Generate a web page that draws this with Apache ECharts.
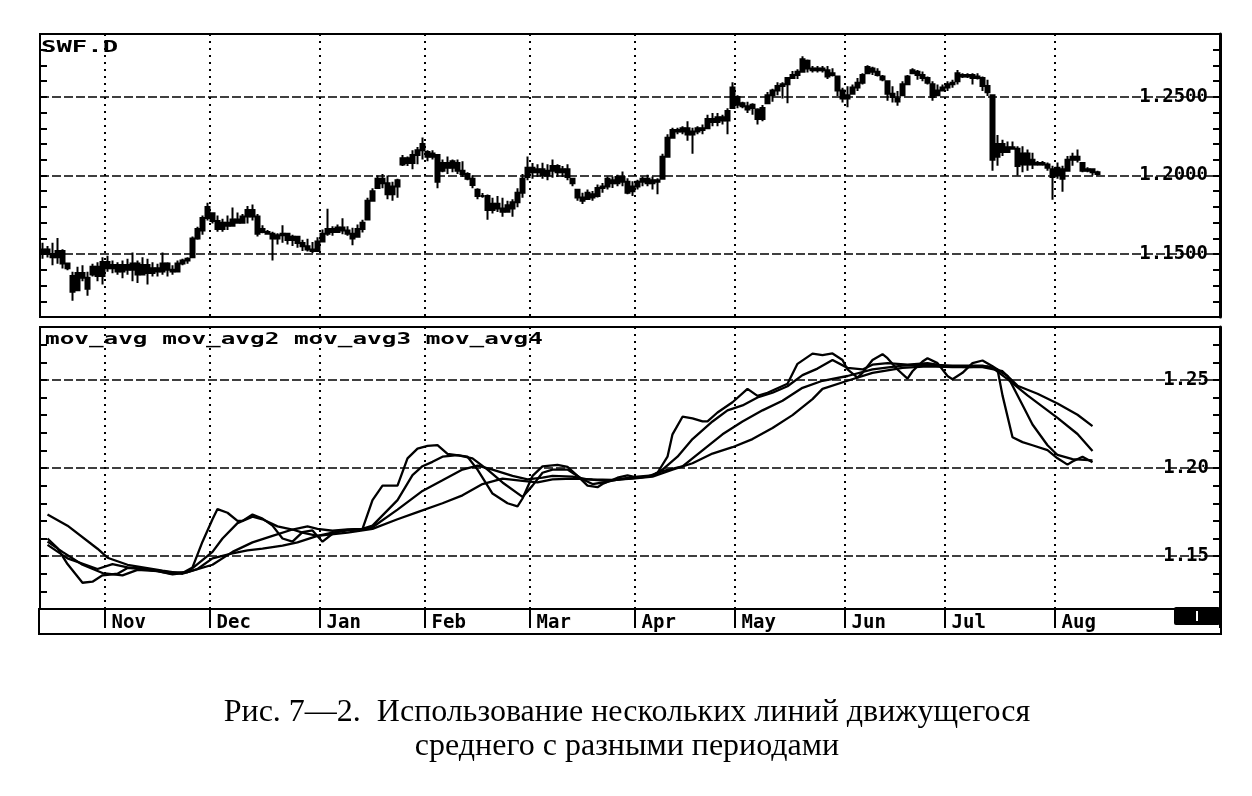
<!DOCTYPE html>
<html>
<head>
<meta charset="utf-8">
<script src="https://cdn.jsdelivr.net/npm/echarts@6/dist/echarts.min.js"></script>
<style>
html,body{margin:0;padding:0;background:#fff;}
#chart{width:1252px;height:796px;}
</style>
</head>
<body>
<div id="chart"></div>
<script>
// ---- data ----
const monthNames = ['Oct','Nov','Dec','Jan','Feb','Mar','Apr','May','Jun','Jul','Aug'];
const monthDays  = [13,21,22,21,21,21,20,22,20,22,33];   // trading-day slots per month shown
const topTicks = [1.15, 1.20, 1.25];
const bottomTicks = [1.15, 1.20, 1.25];

// daily bars [open, close, low, high]
const priceBars = [
[1.150,1.153,1.147,1.1572],[1.153,1.150,1.1478,1.1551],[1.150,1.148,1.1429,1.1572],[1.148,1.152,1.1439,1.1602],
[1.152,1.144,1.1408,1.1531],[1.144,1.141,1.1398,1.1445],[1.136,1.126,1.1204,1.1388],[1.127,1.138,1.1266,1.1419],
[1.138,1.135,1.1327,1.1429],[1.135,1.128,1.1235,1.1388],[1.137,1.142,1.1357,1.1439],[1.142,1.136,1.1327,1.1449],
[1.136,1.145,1.1306,1.148],[1.145,1.141,1.1388,1.149],[1.141,1.143,1.1378,1.1459],[1.143,1.139,1.1368,1.1449],
[1.139,1.143,1.1347,1.1459],[1.143,1.140,1.1368,1.147],[1.140,1.144,1.1327,1.151],[1.144,1.137,1.1317,1.1459],
[1.137,1.143,1.1368,1.148],[1.143,1.138,1.1306,1.147],[1.138,1.141,1.1357,1.1449],[1.141,1.139,1.1357,1.1439],
[1.139,1.144,1.1368,1.151],[1.144,1.140,1.1357,1.1449],[1.140,1.139,1.1368,1.1429],[1.139,1.144,1.1385,1.1459],
[1.144,1.146,1.1429,1.147],[1.146,1.147,1.1439,1.148],[1.148,1.160,1.1475,1.1612],[1.160,1.166,1.1592,1.1674],
[1.165,1.173,1.1623,1.1745],[1.173,1.180,1.1714,1.1827],[1.176,1.171,1.1694,1.1765],[1.171,1.166,1.1643,1.1745],
[1.166,1.170,1.1643,1.1725],[1.170,1.168,1.1653,1.1745],[1.168,1.172,1.1674,1.1796],[1.172,1.170,1.1694,1.1765],
[1.170,1.174,1.1694,1.1755],[1.174,1.178,1.1694,1.1806],[1.178,1.174,1.1714,1.1816],[1.174,1.163,1.1612,1.1755],
[1.164,1.166,1.1633,1.1684],[1.164,1.163,1.1623,1.1653],[1.163,1.160,1.1459,1.1643],[1.160,1.162,1.1561,1.1633],
[1.162,1.163,1.1572,1.1684],[1.163,1.159,1.1561,1.1633],[1.159,1.161,1.1551,1.1623],[1.161,1.157,1.1541,1.1612],
[1.157,1.155,1.152,1.1592],[1.155,1.153,1.1516,1.1597],[1.153,1.152,1.1506,1.1577],[1.152,1.158,1.1516,1.1607],
[1.158,1.163,1.1575,1.1657],[1.163,1.166,1.1617,1.1788],[1.166,1.164,1.1617,1.1677],[1.164,1.167,1.1637,1.1688],
[1.167,1.165,1.1627,1.1728],[1.165,1.163,1.1617,1.1677],[1.163,1.160,1.1556,1.1667],[1.161,1.166,1.1605,1.1688],
[1.166,1.170,1.1637,1.1718],[1.172,1.184,1.1718,1.1859],[1.184,1.190,1.1839,1.1919],[1.192,1.198,1.1919,1.200],
[1.198,1.195,1.1919,1.201],[1.195,1.188,1.1849,1.200],[1.188,1.193,1.1839,1.196],[1.193,1.197,1.1859,1.198],
[1.207,1.211,1.206,1.2131],[1.211,1.208,1.206,1.2121],[1.208,1.213,1.204,1.2161],[1.213,1.216,1.2071,1.2181],
[1.216,1.220,1.2101,1.2242],[1.215,1.212,1.2091,1.2161],[1.212,1.214,1.2101,1.2161],[1.213,1.196,1.1919,1.2131],
[1.203,1.208,1.202,1.2101],[1.208,1.205,1.201,1.2121],[1.205,1.209,1.202,1.2101],[1.208,1.203,1.201,1.2101],
[1.203,1.201,1.199,1.2091],[1.201,1.198,1.197,1.202],[1.198,1.194,1.1919,1.200],[1.191,1.187,1.1849,1.1919],
[1.187,1.187,1.1859,1.1889],[1.187,1.178,1.1718,1.1879],[1.178,1.182,1.1758,1.1859],[1.182,1.179,1.1768,1.1869],
[1.179,1.177,1.1738,1.1859],[1.177,1.181,1.1768,1.1839],[1.179,1.183,1.1738,1.1849],[1.183,1.189,1.1798,1.1919],
[1.189,1.198,1.1859,1.201],[1.199,1.205,1.1969,1.2121],[1.205,1.202,1.198,1.208],[1.202,1.204,1.199,1.2071],
[1.204,1.200,1.198,1.2081],[1.200,1.203,1.197,1.2071],[1.203,1.206,1.1985,1.2101],[1.206,1.202,1.199,1.2071],
[1.202,1.204,1.199,1.206],[1.204,1.199,1.197,1.2071],[1.198,1.195,1.1932,1.1983],[1.191,1.186,1.1839,1.1911],
[1.186,1.184,1.1818,1.189],[1.185,1.189,1.1849,1.1911],[1.188,1.186,1.1839,1.1901],[1.187,1.192,1.186,1.1942],
[1.192,1.193,1.189,1.1952],[1.193,1.198,1.1911,1.1994],[1.197,1.195,1.1921,1.1994],[1.195,1.199,1.1932,1.2004],
[1.199,1.196,1.1932,1.2025],[1.196,1.189,1.188,1.1983],[1.190,1.193,1.187,1.1963],[1.193,1.196,1.1911,1.1973],
[1.196,1.198,1.1932,1.1994],[1.198,1.195,1.1932,1.2004],[1.195,1.197,1.1911,1.1994],[1.197,1.196,1.188,1.1983],
[1.198,1.212,1.1973,1.2138],[1.212,1.224,1.2118,1.2262],[1.224,1.229,1.2235,1.2304],[1.229,1.228,1.2262,1.2304],
[1.228,1.230,1.2262,1.2314],[1.230,1.226,1.2221,1.2345],[1.226,1.228,1.2138,1.2304],[1.228,1.230,1.2262,1.2314],
[1.230,1.229,1.2262,1.2324],[1.230,1.236,1.2295,1.2386],[1.236,1.234,1.2314,1.2397],[1.234,1.237,1.2314,1.2397],
[1.237,1.235,1.2324,1.2386],[1.235,1.241,1.2262,1.2428],[1.243,1.256,1.2428,1.2593],[1.250,1.245,1.2428,1.251],
[1.246,1.244,1.2428,1.2469],[1.244,1.242,1.2397,1.2469],[1.243,1.245,1.2386,1.2459],[1.242,1.236,1.2324,1.2428],
[1.236,1.243,1.2345,1.2448],[1.246,1.251,1.2459,1.2531],[1.251,1.254,1.2469,1.2552],[1.254,1.257,1.251,1.2593],
[1.257,1.258,1.249,1.2593],[1.258,1.262,1.2459,1.2624],[1.262,1.264,1.2614,1.2665],[1.264,1.266,1.2614,1.2676],
[1.266,1.274,1.2655,1.2758],[1.273,1.268,1.2655,1.2738],[1.268,1.267,1.2655,1.2696],[1.267,1.268,1.2655,1.2696],
[1.268,1.267,1.2655,1.2696],[1.267,1.263,1.2614,1.2696],[1.265,1.264,1.263,1.2682],[1.263,1.254,1.2506,1.2635],
[1.254,1.249,1.2465,1.2558],[1.249,1.251,1.2434,1.2568],[1.252,1.256,1.2517,1.2579],[1.256,1.259,1.2537,1.262],
[1.259,1.264,1.2579,1.2651],[1.265,1.269,1.2645,1.2702],[1.268,1.266,1.264,1.2692],[1.266,1.264,1.263,1.2682],
[1.263,1.261,1.2599,1.264],[1.260,1.252,1.2475,1.2605],[1.252,1.250,1.2465,1.2568],[1.249,1.247,1.2444,1.2537],
[1.251,1.258,1.2505,1.2599],[1.258,1.263,1.2575,1.264],[1.265,1.267,1.2645,1.2682],[1.266,1.264,1.2609,1.2671],
[1.264,1.262,1.2599,1.2661],[1.262,1.259,1.2579,1.263],[1.258,1.250,1.2475,1.2599],[1.251,1.254,1.2505,1.2579],
[1.254,1.256,1.2537,1.2579],[1.256,1.258,1.2537,1.2599],[1.258,1.259,1.2558,1.2609],[1.260,1.265,1.2579,1.2671],
[1.264,1.263,1.262,1.2651],[1.263,1.264,1.262,1.2651],[1.264,1.262,1.2579,1.2651],[1.262,1.263,1.261,1.2651],
[1.262,1.257,1.2537,1.263],[1.257,1.253,1.2506,1.2609],[1.251,1.210,1.2031,1.2516],[1.212,1.220,1.2062,1.2258],
[1.220,1.215,1.2124,1.2227],[1.215,1.218,1.2145,1.2217],[1.218,1.217,1.2165,1.2217],[1.217,1.206,1.200,1.2186],
[1.207,1.214,1.2021,1.2186],[1.214,1.207,1.2031,1.2165],[1.207,1.210,1.2041,1.2145],[1.208,1.207,1.2062,1.2093],
[1.207,1.208,1.2062,1.2093],[1.207,1.205,1.2031,1.2083],[1.204,1.199,1.1845,1.2062],[1.200,1.205,1.1979,1.2083],
[1.204,1.198,1.1897,1.2062],[1.203,1.210,1.2025,1.2124],[1.210,1.212,1.2062,1.2145],[1.212,1.210,1.2083,1.2165],
[1.208,1.203,1.2021,1.2083],[1.203,1.204,1.2021,1.2052],[1.204,1.202,1.200,1.2041],[1.202,1.201,1.200,1.2031]
];

// moving averages: [trading-day index, value]
const movAvg1 = [[1,1.160],[3,1.1546],[5,1.1455],[8,1.1349],[10,1.1355],[12,1.1391],[15,1.140],[17,1.1433],[20,1.1426],[23,1.1415],[26,1.1396],[28,1.1404],[30,1.1436],[32,1.1582],[34,1.1709],[35,1.1767],[37,1.1746],[39,1.170],[40,1.170],[42,1.1736],[44,1.1713],[46,1.1673],[48,1.160],[50,1.1582],[52,1.1636],[54,1.1646],[56,1.1582],[58,1.1627],[60,1.1646],[64,1.1655],[66,1.1818],[68,1.19],[71,1.19],[73,1.2055],[75,1.211],[77,1.2125],[79,1.213],[81,1.208],[85,1.2064],[87,1.1991],[90,1.1855],[93,1.18],[95,1.1782],[96,1.1827],[98,1.1955],[100,1.2009],[103,1.2018],[105,1.2006],[107,1.1955],[109,1.19],[111,1.1891],[112,1.1909],[115,1.1945],[117,1.1958],[119,1.1945],[122,1.1955],[123,1.1973],[125,1.2064],[126,1.2191],[128,1.2291],[130,1.2282],[132,1.2264],[133,1.2264],[135,1.2315],[138,1.2373],[141,1.2449],[143,1.2409],[145,1.2427],[149,1.2478],[151,1.2591],[154,1.2649],[156,1.2641],[158,1.265],[160,1.2613],[161,1.2559],[163,1.2513],[164,1.254],[166,1.2613],[168,1.2646],[169,1.2623],[171,1.2559],[173,1.2507],[174,1.2549],[176,1.2604],[177,1.2623],[179,1.2595],[181,1.2522],[182,1.2504],[184,1.254],[186,1.2595],[188,1.261],[190,1.2577],[191,1.2559],[192,1.2412],[194,1.2174],[196,1.2147],[198,1.2129],[201,1.2101],[203,1.2055],[205,1.2019],[206,1.2037],[208,1.2064],[210,1.2032]];
const movAvg2 = [[1,1.1582],[4,1.1524],[8,1.1451],[12,1.1404],[16,1.1391],[19,1.1422],[23,1.1415],[26,1.140],[29,1.1409],[31,1.1455],[34,1.1524],[36,1.160],[39,1.1687],[42,1.1724],[44,1.1709],[47,1.1669],[50,1.1651],[52,1.1633],[55,1.1615],[58,1.1633],[61,1.1646],[64,1.1655],[66,1.1673],[71,1.1818],[74,1.196],[76,1.201],[78,1.2035],[80,1.2064],[83,1.2073],[86,1.2055],[89,1.1991],[92,1.1918],[96,1.1836],[98,1.19],[100,1.1973],[102,1.1991],[105,1.1991],[108,1.1936],[110,1.1909],[113,1.1922],[116,1.194],[119,1.1951],[122,1.1958],[124,1.1991],[127,1.2064],[130,1.2164],[134,1.2264],[137,1.2327],[140,1.2355],[143,1.240],[146,1.2427],[149,1.2464],[152,1.2527],[155,1.2564],[158,1.2613],[161,1.2568],[164,1.2559],[166,1.2586],[169,1.2595],[173,1.2586],[177,1.2595],[181,1.2577],[185,1.2573],[189,1.2577],[191,1.2559],[193,1.2522],[196,1.2357],[198,1.2247],[201,1.2129],[203,1.2074],[206,1.205],[210,1.2043]];
const movAvg3 = [[1,1.1564],[5,1.1487],[11,1.1427],[14,1.1455],[17,1.1436],[21,1.1426],[26,1.1407],[29,1.1409],[34,1.1451],[38,1.1524],[42,1.1578],[46,1.1615],[50,1.1651],[53,1.1669],[55,1.1655],[58,1.1644],[61,1.1651],[64,1.1655],[66,1.1664],[71,1.1764],[76,1.187],[80,1.193],[84,1.1991],[87,1.2013],[90,1.1991],[94,1.1955],[97,1.1936],[100,1.1945],[102,1.1955],[106,1.1951],[109,1.1936],[113,1.1927],[117,1.194],[121,1.1951],[124,1.1982],[128,1.2009],[132,1.21],[136,1.2191],[140,1.2264],[144,1.2327],[148,1.2382],[152,1.2455],[156,1.2495],[161,1.2522],[166,1.2559],[172,1.2581],[177,1.2586],[182,1.2581],[188,1.2581],[190,1.2568],[193,1.2504],[197,1.2412],[203,1.2284],[207,1.2193],[210,1.2097]];
const movAvg4 = [[1,1.1736],[5,1.1673],[11,1.1542],[13,1.1491],[17,1.1451],[24,1.1418],[28,1.140],[31,1.1427],[34,1.1487],[38,1.1515],[41,1.1533],[44,1.1542],[48,1.156],[51,1.1578],[55,1.1615],[61,1.1633],[64,1.1646],[66,1.1655],[71,1.1709],[75,1.175],[80,1.180],[84,1.1845],[88,1.1909],[92,1.194],[96,1.1927],[99,1.1918],[102,1.1936],[106,1.194],[110,1.1936],[114,1.1933],[118,1.194],[122,1.1951],[126,1.1991],[130,1.2027],[134,1.2082],[138,1.2118],[142,1.2164],[146,1.2227],[150,1.230],[154,1.2391],[156,1.2449],[161,1.2495],[166,1.254],[172,1.2568],[177,1.2577],[182,1.2573],[188,1.2573],[192,1.2549],[195,1.2467],[199,1.2421],[203,1.2366],[207,1.2302],[210,1.2238]];

const seriesNames = ['mov_avg','mov_avg2','mov_avg3','mov_avg4'];
const symbolName = 'SWF.D';
const captionLines = ['Рис. 7—2.  Использование нескольких линий движущегося', 'среднего с разными периодами'];

// ---- build ----
const categories = [];
monthNames.forEach((m, i) => { for (let d = 1; d <= monthDays[i]; d++) categories.push(m + ' ' + d); });
const isMonthStart = (idx, val) => idx > 0 && /\s1$/.test(val);

const mono = '"DejaVu Sans Mono"';
const isTick = (v, list) => list.some(t => Math.abs(v - t) < 1e-6);

const gridLineStyle = {color:'#000', width:1.5, type:[9,3]};
const vLineStyle = {color:'#000', width:2, type:[2,5]};

const chart = echarts.init(document.getElementById('chart'), null, {renderer:'canvas'});
const option = {
  animation: false,
  backgroundColor: '#fff',
  grid: [
    {left:40, right:32, top:34, height:283, show:true, borderColor:'#000', borderWidth:2},
    {left:40, right:32, top:327, height:282, show:true, borderColor:'#000', borderWidth:2}
  ],
  xAxis: [
    {type:'category', gridIndex:0, data:categories, boundaryGap:true,
     axisLine:{show:true, lineStyle:{color:'#000', width:2}},
     axisTick:{show:false}, axisLabel:{show:false},
     splitLine:{show:true, interval:isMonthStart, lineStyle:vLineStyle}},
    {type:'category', gridIndex:1, data:categories, boundaryGap:true,
     axisLine:{show:true, lineStyle:{color:'#000', width:2}},
     axisTick:{show:true, interval:isMonthStart, length:19, lineStyle:{color:'#000', width:2}},
     axisLabel:{show:true, interval:isMonthStart, formatter:v => v.split(' ')[0], align:'left',
                margin:5, padding:[0,0,0,4], color:'#000', fontFamily:mono, fontWeight:'bold', fontSize:19},
     splitLine:{show:true, interval:isMonthStart, lineStyle:vLineStyle}}
  ],
  yAxis: [
    {type:'value', gridIndex:0, position:'right', min:1.11, max:1.29, interval:0.01, scale:true,
     axisLine:{show:true, lineStyle:{color:'#000', width:3}},
     axisTick:{show:true, inside:true, length:7, lineStyle:{color:'#000', width:2}},
     axisLabel:{inside:true, margin:10, color:'#000', fontFamily:mono, fontWeight:'bold', fontSize:19,
                backgroundColor:'#fff', padding:[0,2,0,4],
                formatter:v => isTick(v, topTicks) ? v.toFixed(4) : ''},
     splitLine:{show:false}},
    {type:'value', gridIndex:0, position:'left', min:1.11, max:1.29, interval:0.01, scale:true,
     axisLine:{show:true, lineStyle:{color:'#000', width:2}},
     axisTick:{show:true, inside:true, length:7, lineStyle:{color:'#000', width:2}},
     axisLabel:{show:false}, splitLine:{show:false}},
    {type:'value', gridIndex:1, position:'right', min:1.12, max:1.28, interval:0.01, scale:true,
     axisLine:{show:true, lineStyle:{color:'#000', width:3}},
     axisTick:{show:true, inside:true, length:7, lineStyle:{color:'#000', width:2}},
     axisLabel:{inside:true, margin:9, color:'#000', fontFamily:mono, fontWeight:'bold', fontSize:19,
                backgroundColor:'#fff', padding:[0,2,0,4],
                formatter:v => isTick(v, bottomTicks) ? v.toFixed(2) : ''},
     splitLine:{show:false}},
    {type:'value', gridIndex:1, position:'left', min:1.12, max:1.28, interval:0.01, scale:true,
     axisLine:{show:true, lineStyle:{color:'#000', width:2}},
     axisTick:{show:true, inside:true, length:7, lineStyle:{color:'#000', width:2}},
     axisLabel:{show:false}, splitLine:{show:false}}
  ],
  series: [
    {name:symbolName, type:'candlestick', xAxisIndex:0, yAxisIndex:0, data:priceBars, barWidth:5,
     itemStyle:{color:'#000', color0:'#000', borderColor:'#000', borderColor0:'#000', borderWidth:2},
     markLine:{silent:true, symbol:'none', label:{show:false}, lineStyle:gridLineStyle,
               data: topTicks.map(t => ({yAxis:t}))}},
    ...[movAvg1, movAvg2, movAvg3, movAvg4].map((d, i) => ({
      name:seriesNames[i], type:'line', xAxisIndex:1, yAxisIndex:2, data:d, showSymbol:false, symbol:'none',
      lineStyle:{color:'#000', width:2.3}, z:3,
      markLine: i === 0 ? {silent:true, symbol:'none', label:{show:false}, lineStyle:gridLineStyle,
                           data: bottomTicks.map(t => ({yAxis:t}))} : undefined
    }))
  ],
  graphic: [
    {type:'text', x:41, y:40, scaleX:1.6, z:10,
     style:{text:symbolName, font:'bold 16px ' + mono, fill:'#000', verticalAlign:'top'}},
    {type:'text', x:45, y:332, scaleX:1.52, z:10,
     style:{text:seriesNames.join(' '), font:'bold 16px ' + mono, fill:'#000', verticalAlign:'top'}},
    {type:'rect', z:10, shape:{x:39, y:609, width:1182, height:25}, style:{fill:'none', stroke:'#000', lineWidth:2}},
    {type:'rect', z:11, shape:{x:1174, y:607, width:46, height:18, r:2}, style:{fill:'#000'}},
    {type:'rect', z:12, shape:{x:1196, y:611, width:2, height:10}, style:{fill:'#fff'}},
    {type:'text', x:627, y:713, z:10,
     style:{text:captionLines[0], font:'32px "Liberation Serif"', fill:'#000', align:'center', verticalAlign:'middle'}},
    {type:'text', x:627, y:747, z:10,
     style:{text:captionLines[1], font:'32px "Liberation Serif"', fill:'#000', align:'center', verticalAlign:'middle'}}
  ]
};
chart.setOption(option);
</script>
</body>
</html>
